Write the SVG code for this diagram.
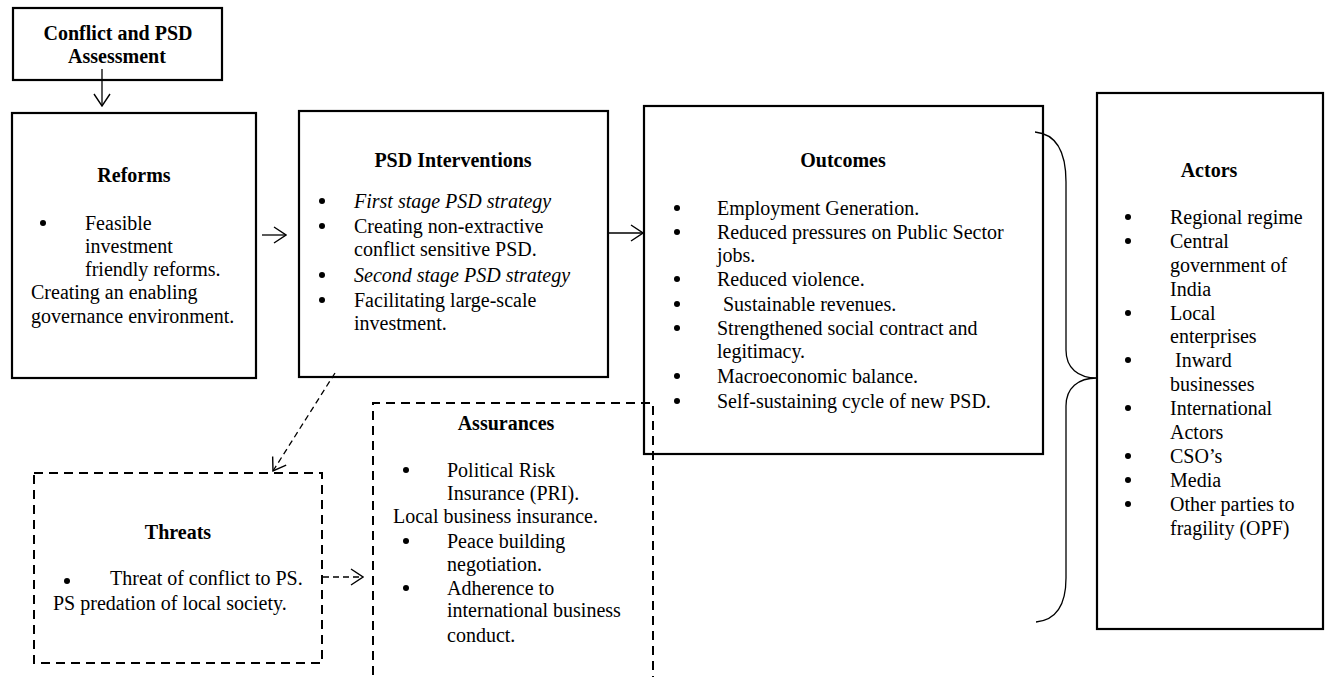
<svg xmlns="http://www.w3.org/2000/svg" width="1325" height="677" viewBox="0 0 1325 677">
<defs>
<style>
text{font-family:"Liberation Serif","Times New Roman",serif;font-size:20px;fill:#000}
.t{font-weight:bold;text-anchor:middle}
.i{font-style:italic}
.box{fill:none;stroke:#000;stroke-width:2.2}
.dbox{fill:none;stroke:#000;stroke-width:2;stroke-dasharray:9 6}
.ln{fill:none;stroke:#000;stroke-width:1.3}
.dln{fill:none;stroke:#000;stroke-width:1.3;stroke-dasharray:6 4}
.b{fill:#000}
</style>
<marker id="ah" viewBox="0 0 14 18" refX="13" refY="9" markerWidth="14" markerHeight="18" markerUnits="userSpaceOnUse" orient="auto">
<path d="M1,1 L13,9 L1,17" fill="none" stroke="#000" stroke-width="1.4" stroke-dasharray="none"/>
</marker>
</defs>
<rect width="1325" height="677" fill="#fff"/>

<g id="conflict">
<rect class="box" x="13" y="8" width="209" height="72"/>
<text class="t" x="118" y="40">Conflict and PSD</text>
<text class="t" x="117" y="63">Assessment</text>
</g>

<g id="reforms">
<rect class="box" x="12" y="113" width="244" height="265"/>
<text class="t" x="134" y="182">Reforms</text>
<circle class="b" cx="43" cy="223" r="3"/>
<text x="85" y="230">Feasible</text>
<text x="85" y="253">investment</text>
<text x="85" y="276">friendly reforms.</text>
<text x="31" y="299">Creating an enabling</text>
<text x="31" y="323">governance environment.</text>
</g>

<g id="psd">
<rect class="box" x="299" y="111" width="309" height="266"/>
<text class="t" x="453" y="167">PSD Interventions</text>
<circle class="b" cx="322" cy="201" r="3"/>
<circle class="b" cx="322" cy="226" r="3"/>
<circle class="b" cx="322" cy="275" r="3"/>
<circle class="b" cx="322" cy="300" r="3"/>
<text class="i" x="354" y="208">First stage PSD strategy</text>
<text x="354" y="233">Creating non-extractive</text>
<text x="354" y="256">conflict sensitive PSD.</text>
<text class="i" x="354" y="282">Second stage PSD strategy</text>
<text x="354" y="307">Facilitating large-scale</text>
<text x="354" y="330">investment.</text>
</g>

<g id="outcomes">
<rect class="box" x="644" y="106" width="399" height="348"/>
<text class="t" x="843" y="167">Outcomes</text>
<circle class="b" cx="677" cy="208" r="3"/>
<circle class="b" cx="677" cy="232" r="3"/>
<circle class="b" cx="677" cy="279" r="3"/>
<circle class="b" cx="677" cy="304" r="3"/>
<circle class="b" cx="677" cy="328" r="3"/>
<circle class="b" cx="677" cy="376" r="3"/>
<circle class="b" cx="677" cy="401" r="3"/>
<text x="717" y="215">Employment Generation.</text>
<text x="717" y="239">Reduced pressures on Public Sector</text>
<text x="717" y="262">jobs.</text>
<text x="717" y="286">Reduced violence.</text>
<text x="723" y="311">Sustainable revenues.</text>
<text x="717" y="335">Strengthened social contract and</text>
<text x="717" y="358">legitimacy.</text>
<text x="717" y="383">Macroeconomic balance.</text>
<text x="717" y="408">Self-sustaining cycle of new PSD.</text>
</g>

<g id="actors">
<rect class="box" x="1097" y="93" width="226" height="536"/>
<text class="t" x="1209" y="177">Actors</text>
<circle class="b" cx="1128" cy="217" r="3"/>
<circle class="b" cx="1128" cy="241" r="3"/>
<circle class="b" cx="1128" cy="313" r="3"/>
<circle class="b" cx="1128" cy="360" r="3"/>
<circle class="b" cx="1128" cy="408" r="3"/>
<circle class="b" cx="1128" cy="456" r="3"/>
<circle class="b" cx="1128" cy="480" r="3"/>
<circle class="b" cx="1128" cy="504" r="3"/>
<text x="1170" y="224">Regional regime</text>
<text x="1170" y="248">Central</text>
<text x="1170" y="272">government of</text>
<text x="1170" y="296">India</text>
<text x="1170" y="320">Local</text>
<text x="1170" y="343">enterprises</text>
<text x="1175" y="367">Inward</text>
<text x="1170" y="391">businesses</text>
<text x="1170" y="415">International</text>
<text x="1170" y="439">Actors</text>
<text x="1170" y="463">CSO’s</text>
<text x="1170" y="487">Media</text>
<text x="1170" y="511">Other parties to</text>
<text x="1170" y="535">fragility (OPF)</text>
</g>

<g id="threats">
<rect class="dbox" x="34" y="473" width="288" height="190"/>
<text class="t" x="178" y="539">Threats</text>
<circle class="b" cx="67" cy="581" r="3"/>
<text x="110" y="585">Threat of conflict to PS.</text>
<text x="53" y="610">PS predation of local society.</text>
</g>

<g id="assurances">
<path class="dbox" d="M373,690 L373,403 L653,403 L653,690"/>
<text class="t" x="506" y="430">Assurances</text>
<circle class="b" cx="406" cy="470" r="3"/>
<circle class="b" cx="406" cy="541" r="3"/>
<circle class="b" cx="406" cy="588" r="3"/>
<text x="447" y="477">Political Risk</text>
<text x="447" y="500">Insurance (PRI).</text>
<text x="393" y="523">Local business insurance.</text>
<text x="447" y="548">Peace building</text>
<text x="447" y="571">negotiation.</text>
<text x="447" y="595">Adherence to</text>
<text x="447" y="617">international business</text>
<text x="447" y="642">conduct.</text>
</g>

<g id="connectors">
<line class="ln" x1="102" y1="69" x2="102" y2="106" marker-end="url(#ah)"/>
<line class="ln" x1="262" y1="235" x2="286" y2="235" marker-end="url(#ah)"/>
<line class="ln" x1="608" y1="233" x2="643" y2="233" marker-end="url(#ah)"/>
<line class="dln" x1="335" y1="373" x2="273" y2="471" marker-end="url(#ah)"/>
<line class="dln" x1="323" y1="577" x2="363" y2="577" marker-end="url(#ah)"/>
<path class="ln" d="M1035,132 C1056,134 1066,150 1066,182 L1066,350 C1066,368 1078,378 1097,378 C1078,378 1066,388 1066,406 L1066,578 C1066,606 1056,620 1036,622"/>
</g>
</svg>
